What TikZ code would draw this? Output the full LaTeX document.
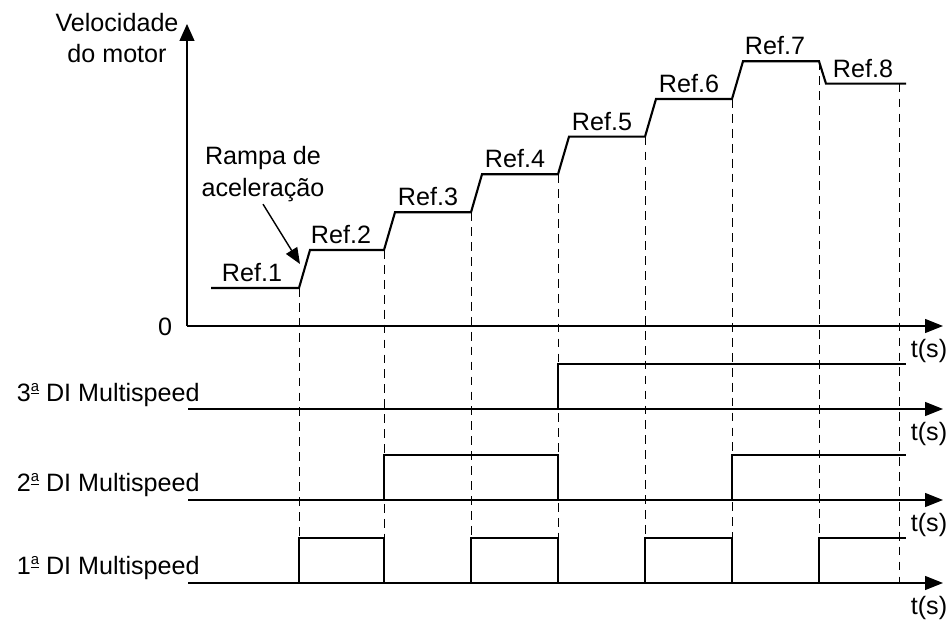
\documentclass[tikz,border=0pt]{standalone}
\usepackage{fontspec}
\setmainfont{Liberation Sans}
\usetikzlibrary{arrows.meta}
\newcommand{\ordsup}{\raisebox{0.42em}{\fontsize{8.5}{9}\selectfont\underline{a}}}

\begin{document}
\begin{tikzpicture}[x=0.02cm,y=-0.02cm,
  axis/.style={line width=0.7pt,-{Triangle[length=3.6mm,width=2.8mm]}},
  signal/.style={line width=1.2pt},
  guide/.style={line width=0.5pt,dash pattern=on 5pt off 3.5pt},
  pointer/.style={line width=0.8pt,-{Triangle[length=3.2mm,width=2.6mm]}},
  lbl/.style={font=\fontsize{14.3}{16}\selectfont,inner sep=0pt,anchor=base}]
\useasboundingbox (0,0) rectangle (951,621);

% axes
\coordinate (o) at (187,326);
\coordinate (ytop) at (187,24);
\coordinate (xend) at (943,326);
\draw[line width=0.7pt,-{Triangle[length=3.4mm,width=3mm]}] (o) -- (ytop);
\draw[axis] (o) -- (xend);
\draw[axis] (188,409) -- (943,409);
\draw[axis] (188,500) -- (943,500);
\draw[axis] (188,583) -- (943,583);

% dashed guides
\foreach \x/\y in {299/288,384/250,471/212.3,558/174.3,645/136.7,732/99,819/61.3,899/83.7}
  \draw[guide] (\x,\y) -- (\x,583);

% motor speed
\draw[signal] (211,288) -- (299,288) -- (310,250) -- (384,250) -- (395,212.3)
  -- (471,212.3) -- (482,174.3) -- (558,174.3) -- (569,136.7) -- (645,136.7)
  -- (656,99) -- (732,99) -- (743,61.3) -- (819,61.3) -- (826,83.7) -- (906,83.7);

% digital inputs
\draw[signal] (211,409) -- (558,409) -- (558,364) -- (906,364);
\draw[signal] (211,500) -- (384,500) -- (384,455) -- (558,455) -- (558,500)
  -- (732,500) -- (732,455) -- (906,455);
\draw[signal] (211,583) -- (299,583) -- (299,538) -- (384,538) -- (384,583)
  -- (471,583) -- (471,538) -- (558,538) -- (558,583) -- (645,583) -- (645,538)
  -- (732,538) -- (732,583) -- (819,583) -- (819,538) -- (906,538);

% labels
\node[lbl] (vel1) at (117,32) {Velocidade};
\node[lbl] (vel2) at (117,63) {do motor};
\node[lbl,anchor=center] (zero) at (165,327) {0};
\node[lbl] (ramp1) at (263,165) {Rampa de};
\node[lbl] (ramp2) at (263,196.7) {aceleração};
\coordinate (tip) at (300,264);
\draw[pointer] ([yshift=-1pt]ramp2.south) -- (tip);

\node[lbl] (ref1) at (252,282) {Ref.1};
\node[lbl] (ref2) at (341,244) {Ref.2};
\node[lbl] (ref3) at (428,206) {Ref.3};
\node[lbl] (ref4) at (515,168) {Ref.4};
\node[lbl] (ref5) at (602,130.5) {Ref.5};
\node[lbl] (ref6) at (689,93) {Ref.6};
\node[lbl] (ref7) at (775,55) {Ref.7};
\node[lbl] (ref8) at (863,77.5) {Ref.8};

\node[lbl,anchor=base east] (di3) at (200,401.7) {3\ordsup{} DI Multispeed};
\node[lbl,anchor=base east] (di2) at (200,492) {2\ordsup{} DI Multispeed};
\node[lbl,anchor=base east] (di1) at (200,575) {1\ordsup{} DI Multispeed};

\node[lbl] (t0) at (929,358) {t(s)};
\node[lbl] (t3) at (929,441) {t(s)};
\node[lbl] (t2) at (929,532) {t(s)};
\node[lbl] (t1) at (929,615) {t(s)};
\end{tikzpicture}
\end{document}
